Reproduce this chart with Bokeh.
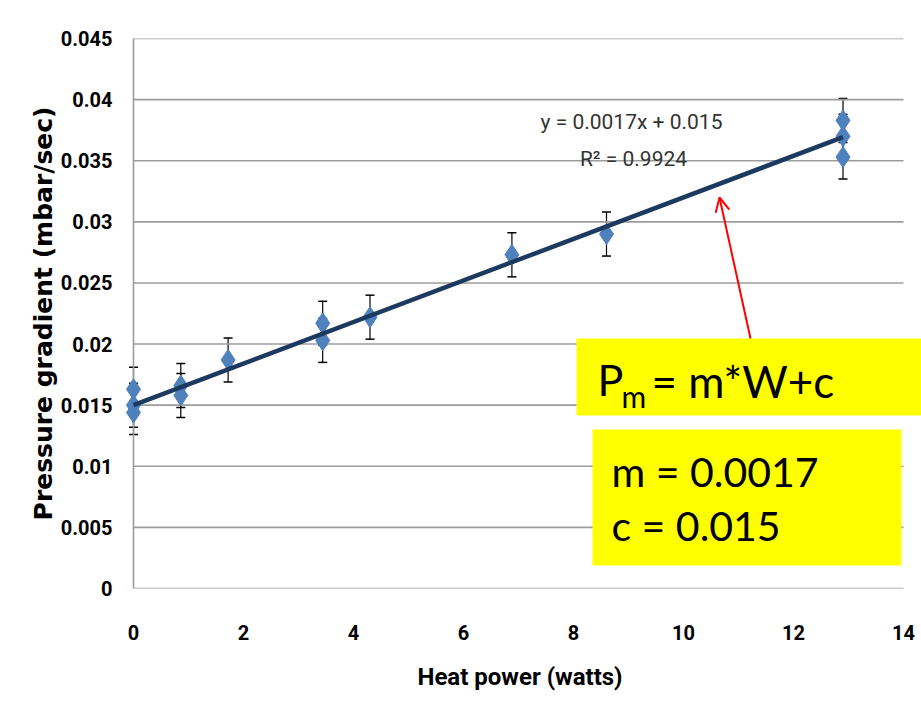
from bokeh.plotting import figure
from bokeh.models import (ColumnDataSource, Range1d, FixedTicker, Whisker, TeeHead,
                          Arrow, OpenHead)
from bokeh.core.properties import value
from bokeh.embed import file_html
from bokeh.resources import INLINE

# ---------------- data ----------------
heat_power = [0, 0, 0, 0.86, 0.86, 1.72, 3.44, 3.44, 4.3, 6.88, 8.6, 12.9, 12.9, 12.9]
pressure_gradient = [0.0163, 0.0150, 0.0144, 0.0166, 0.0158, 0.0187, 0.0217, 0.0203,
                     0.0222, 0.0273, 0.0290, 0.0383, 0.0370, 0.0353]
error = [0.0018, 0.0018, 0.0018, 0.0018, 0.0018, 0.0018, 0.0018, 0.0018,
         0.0018, 0.0018, 0.0018, 0.0018, 0.0018, 0.0018]
slope = 0.0017
intercept = 0.015
fit_x = [0, 12.9]
x_ticks = [0, 2, 4, 6, 8, 10, 12, 14]
y_ticks = [0, 0.005, 0.01, 0.015, 0.02, 0.025, 0.03, 0.035, 0.04, 0.045]
y_tick_labels = ["0", "0.005", "0.01", "0.015", "0.02", "0.025", "0.03", "0.035", "0.04", "0.045"]
equation_text = "y = 0.0017x + 0.015"
r2_text = "R\u00b2 = 0.9924"

# ---------------- layout ----------------
W, H = 921, 723
X0_PX, Y0_PX = 133, 588          # pixel position of the data origin
PX_PER_X = 55.0
TOP_PX = 38
BL, BR, BT, BB = 118, 0, TOP_PX, H - Y0_PX
frame_h = Y0_PX - TOP_PX
y_end = 0.045
x_start = -(X0_PX - BL) / PX_PER_X
x_end = (W - X0_PX) / PX_PER_X

def dx(px):
    return (px - X0_PX) / PX_PER_X

def dy(py):
    return (Y0_PX - py) / frame_h * y_end

p = figure(width=W, height=H, output_backend="svg", toolbar_location=None,
           x_range=Range1d(x_start, x_end), y_range=Range1d(0, y_end),
           min_border_left=BL, min_border_right=BR, min_border_top=BT, min_border_bottom=BB)
p.outline_line_color = None
p.xgrid.grid_line_color = None
p.ygrid.grid_line_color = None
p.background_fill_color = "white"
p.border_fill_color = "white"

GRID = "#9c9c9c"
# horizontal gridlines limited to 0..14 and y-axis line at x=0
p.segment(x0=[x_ticks[0]] * len(y_ticks), x1=[x_ticks[-1]] * len(y_ticks),
          y0=y_ticks, y1=y_ticks, line_color=GRID, line_width=1.6)
p.segment(x0=[x_ticks[0]], x1=[x_ticks[0]], y0=[y_ticks[0]], y1=[y_ticks[-1]],
          line_color=GRID, line_width=1.6)

tick_font = "Roboto"
p.xaxis.ticker = FixedTicker(ticks=x_ticks)
p.yaxis.ticker = FixedTicker(ticks=y_ticks)
p.yaxis.major_label_overrides = {t: l for t, l in zip(y_ticks, y_tick_labels)}
for ax in (p.xaxis[0], p.yaxis[0]):
    ax.axis_line_color = None
    ax.major_tick_line_color = None
    ax.minor_tick_line_color = None
    ax.major_label_text_font = tick_font
    ax.major_label_text_font_style = "bold"
    ax.major_label_text_font_size = "20px"
    ax.major_label_text_color = "black"
p.yaxis.major_label_standoff = 0
p.xaxis.major_label_standoff = 30

p.xaxis.axis_label = "Heat power (watts)"
p.xaxis.axis_label_text_font = "Roboto"
p.xaxis.axis_label_text_font_style = "bold"
p.xaxis.axis_label_text_font_size = "24px"
p.xaxis.axis_label_text_color = "black"
p.xaxis.axis_label_standoff = 20

p.yaxis.axis_label = "Pressure gradient (mbar/sec)"
p.yaxis.axis_label_text_font = "DejaVu Sans"
p.yaxis.axis_label_text_font_style = "bold"
p.yaxis.axis_label_text_font_size = "25px"
p.yaxis.axis_label_text_color = "black"
p.yaxis.axis_label_standoff = 0

# yellow boxes
p.quad(left=[dx(576)], right=[x_end + 1], top=[dy(338)], bottom=[dy(415)],
       fill_color="#ffff00", line_color=None)
p.quad(left=[dx(592)], right=[dx(901)], top=[dy(429)], bottom=[dy(565)],
       fill_color="#ffff00", line_color=None)

box_font = value("Lato")
p.text(x=[dx(597)], y=[dy(379)], text=["P"], text_font=box_font, text_font_size="43px",
       text_baseline="middle", text_color="black")
p.text(x=[dx(621)], y=[dy(395)], text=["m"], text_font=box_font, text_font_size="30px",
       text_baseline="middle", text_color="black")
p.text(x=[dx(651)], y=[dy(380)], text=["= m*W+c"], text_font=box_font, text_font_size="44px",
       text_baseline="middle", text_color="black")
p.text(x=[dx(611), dx(611)], y=[dy(471), dy(525)], text=["m = 0.0017", "c = 0.015"],
       text_font=box_font, text_font_size="41px", text_baseline="middle", text_color="black")

# error bars
src = ColumnDataSource(dict(x=heat_power, y=pressure_gradient,
                            upper=[v + e for v, e in zip(pressure_gradient, error)],
                            lower=[v - e for v, e in zip(pressure_gradient, error)]))
p.add_layout(Whisker(base="x", upper="upper", lower="lower", source=src, dimension="height",
                     line_color="black", line_width=1.2,
                     upper_head=TeeHead(size=9, line_color="black", line_width=1.5),
                     lower_head=TeeHead(size=9, line_color="black", line_width=1.5)))

p.scatter("x", "y", source=src, marker="diamond", size=21, fill_color="#4f81bd",
          line_color="#4f81bd")

# fit line
fit_y = [slope * x + intercept for x in fit_x]
p.line(fit_x, fit_y, line_color="#1c3a60", line_width=4.5)

# equation texts
p.text(x=[dx(631), dx(633)], y=[dy(121), dy(158)], text=[equation_text, r2_text],
       text_font=value("Roboto"), text_font_size="21px",
       text_align="center", text_baseline="middle", text_color="#333333")

# red arrow
p.add_layout(Arrow(end=OpenHead(size=14, line_color="red", line_width=2),
                   x_start=dx(750), y_start=dy(338), x_end=dx(719), y_end=dy(197),
                   line_color="red", line_width=2))

open("out.html", "w").write(file_html(p, INLINE))
